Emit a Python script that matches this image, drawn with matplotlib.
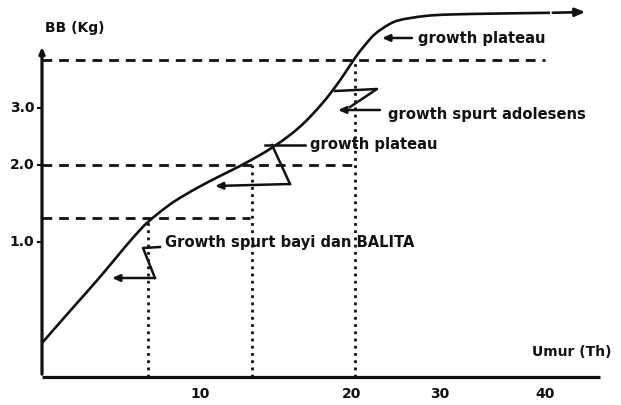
import matplotlib
matplotlib.use("Agg")
import matplotlib.pyplot as plt
from matplotlib.path import Path
from matplotlib.patches import PathPatch

# ---- data (chart units: x = age axis, y = weight axis; schematic, non-linear scale) ----
curve_x = [0, 28, 58, 83, 98, 106, 118, 133, 155, 178, 198, 218, 231, 248, 263, 278,
           291, 303, 313, 323, 333, 346, 358, 383, 408, 458, 508, 546]
curve_y = [34, 66, 100, 130, 147, 155, 165, 176, 189, 201, 211, 222, 230, 242, 255, 271,
           287, 304, 319, 332, 343, 352, 357, 361, 362.5, 363.5, 364.2, 365]

x_tick_pos = [158, 310, 398, 503]
x_tick_labels = ["10", "20", "30", "40"]
y_tick_pos = [135, 212, 269]
y_tick_labels = ["1.0", "2.0", "3.0"]

# reference (guide) levels: weight level, age where the curve reaches it, dashed extent
guide_y = [159, 212, 317]
guide_x = [106, 210, 313]
guide_xend = [208, 313, 503]

fig = plt.figure(figsize=(6.21, 4.05), dpi=100)
ax = fig.add_axes([42/621, 28/405, 579/621, 377/405])
ax.set_xlim(0, 579)
ax.set_ylim(0, 377)
ax.axis("off")

ink = "#111111"
bold = dict(fontfamily="DejaVu Sans", fontweight="bold", color=ink)
fs = 10.6


def smooth_path(xs, ys):
    """Catmull-Rom curve through the given points, as a Bezier path (drawing only)."""
    pts = list(zip(xs, ys))
    verts = [pts[0]]
    codes = [Path.MOVETO]
    n = len(pts)
    for i in range(n - 1):
        p0 = pts[i - 1] if i > 0 else pts[i]
        p1 = pts[i]
        p2 = pts[i + 1]
        p3 = pts[i + 2] if i + 2 < n else pts[i + 1]
        c1 = (p1[0] + (p2[0] - p0[0]) / 6, p1[1] + (p2[1] - p0[1]) / 6)
        c2 = (p2[0] - (p3[0] - p1[0]) / 6, p2[1] - (p3[1] - p1[1]) / 6)
        verts += [c1, c2, p2]
        codes += [Path.CURVE4] * 3
    return Path(verts, codes)


# axes lines
ax.plot([0, 558], [0, 0], color=ink, lw=2.3, solid_capstyle="butt", clip_on=False)
ax.annotate("", xy=(0, 333), xytext=(0, 0),
            arrowprops=dict(arrowstyle="-|>,head_length=0.35,head_width=0.15", lw=2.3, color=ink),
            annotation_clip=False)

# guide lines
for gy, gx, ge in zip(guide_y, guide_x, guide_xend):
    ax.plot([0, ge], [gy, gy], color=ink, lw=2.0, ls=(0, (3.5, 2.5)))
    ax.plot([gx, gx], [0, gy], color=ink, lw=2.0, ls=(0, (1, 1.6)))

# growth curve
ax.add_patch(PathPatch(smooth_path(curve_x[:-1], curve_y[:-1]), fill=False,
                       edgecolor=ink, lw=1.9, joinstyle="round"))
ax.annotate("", xy=(curve_x[-1], curve_y[-1]), xytext=(curve_x[-2], curve_y[-2]),
            arrowprops=dict(arrowstyle="-|>,head_length=0.6,head_width=0.25", lw=1.9, color=ink))

arrow_kw = dict(arrowstyle="-|>,head_length=0.45,head_width=0.2", lw=1.8, color=ink,
                shrinkA=0, shrinkB=0)

# lower zigzag: growth spurt bayi dan balita
ax.plot([118, 101, 113], [130, 129, 99], color=ink, lw=1.8)
ax.annotate("", xy=(70, 99), xytext=(113, 99), arrowprops=arrow_kw)
ax.text(123, 134, "Growth spurt bayi dan BALITA", fontsize=fs, va="center", ha="left", **bold)

# middle zigzag: growth plateau
ax.plot([223, 263], [232, 232], color=ink, lw=1.8)
ax.plot([230, 248], [232, 193], color=ink, lw=1.8)
ax.annotate("", xy=(173, 191), xytext=(248, 193), arrowprops=arrow_kw)
ax.text(268, 232, "growth plateau", fontsize=fs, va="center", ha="left", **bold)

# upper zigzag: growth spurt adolesens
ax.plot([293, 335, 308], [286, 288, 270], color=ink, lw=1.8)
ax.annotate("", xy=(296, 267), xytext=(338, 267), arrowprops=arrow_kw)
ax.text(346, 263, "growth spurt adolesens", fontsize=fs, va="center", ha="left", **bold)

# top: growth plateau
ax.annotate("", xy=(340, 339), xytext=(370, 339), arrowprops=arrow_kw)
ax.text(376, 339, "growth plateau", fontsize=fs, va="center", ha="left", **bold)

# ticks
for p, l in zip(x_tick_pos, x_tick_labels):
    ax.text(p, -17, l, fontsize=10, ha="center", va="center", **bold)
for p, l in zip(y_tick_pos, y_tick_labels):
    ax.text(-20, p, l, fontsize=10, ha="center", va="center", **bold)
    ax.plot([-4, 0], [p, p], color=ink, lw=1.5, clip_on=False)

# axis titles
ax.text(3, 349, "BB (Kg)", fontsize=10, ha="left", va="center", **bold)
ax.text(530, 25, "Umur (Th)", fontsize=10, ha="center", va="center", **bold)

fig.savefig("out.png", dpi=100, facecolor="white")
